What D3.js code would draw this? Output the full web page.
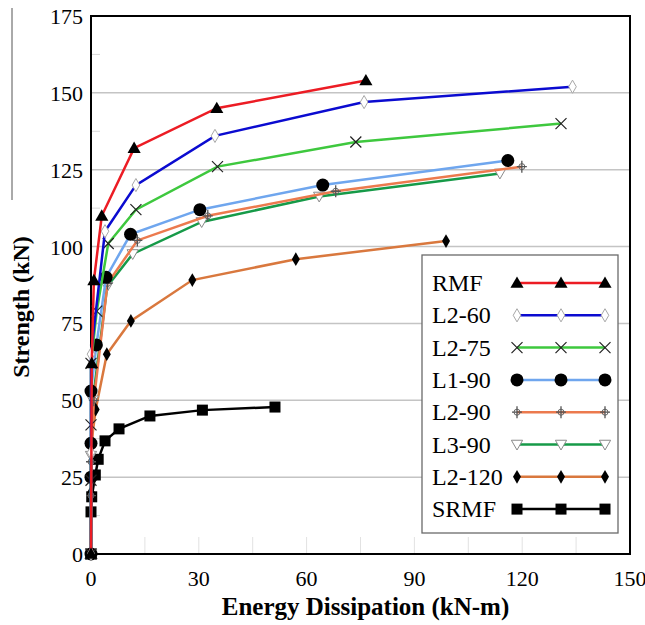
<!DOCTYPE html>
<html>
<head>
<meta charset="utf-8">
<script src="https://cdn.jsdelivr.net/npm/d3@7"></script>
<style>
  body { margin: 0; background: #fff; }
</style>
</head>
<body>
<div id="chart"></div>
<script>
// series values [energy kN-m, strength kN]
var RMF = [[0,0],[0.2,62],[0.8,89],[3,110],[12,132],[35,145],[76.5,154]];
var L2_60 = [[0,0],[0,33],[0,65],[3.9,105],[12.5,120],[34.5,136],[76,147],[134,152]];
var L2_75 = [[0,0],[0,24],[0,42],[0,62],[1.6,79],[4.8,101],[12.5,112],[35.2,126],[73.7,134],[130.8,140]];
var L1_90 = [[0,0],[0,25],[0,36],[0,53],[1.5,68],[4.2,90],[11,104],[30.3,112],[64.5,120],[116,128]];
var L2_90 = [[0,0],[0,19],[0,30],[0.8,50],[4.6,88],[12.9,102],[32.5,110],[68.1,118],[119.9,126]];
var L3_90 = [[0,0],[0,32],[0.5,50],[4.5,87],[11.6,97.6],[30.8,108],[63.5,116.3],[113.8,123.8]];
var L2_120 = [[0,0],[0,20],[0,35],[1.3,47],[4.4,65],[11.1,75.8],[28.2,89.1],[57,95.9],[98.8,101.8]];
var SRMF = [[0,0],[0,13.7],[0.2,18.6],[1.2,25.7],[2,30.8],[3.9,36.8],[7.8,40.7],[16.4,44.9],[31,46.8],[51.2,47.8]];

var seriesNames = ["RMF", "L2-60", "L2-75", "L1-90", "L2-90", "L3-90", "L2-120", "SRMF"];
var seriesData = [RMF, L2_60, L2_75, L1_90, L2_90, L3_90, L2_120, SRMF];
var seriesColors = ["#ec1c24", "#0b0bd0", "#3ec83e", "#6fa6ee", "#ec7a4e", "#169a48", "#d9783e", "#000000"];
var seriesMarkers = ["triUp", "diamondOpen", "cross", "dot", "plus", "triDownOpen", "diamond", "square"];

var xTicks = [0, 30, 60, 90, 120, 150];
var yTicks = [0, 25, 50, 75, 100, 125, 150, 175];

var FONT = "'Liberation Serif', 'DejaVu Serif', 'Times New Roman', serif";
var width = 645, height = 625;
var margin = { top: 16, right: 15, bottom: 71, left: 91 };

var svg = d3.select("#chart").append("svg")
  .attr("width", width)
  .attr("height", height)
  .attr("font-family", FONT)
  .style("font-family", FONT);

var x = d3.scaleLinear().domain([0, 150]).range([margin.left, width - margin.right]);
var y = d3.scaleLinear().domain([0, 175]).range([height - margin.bottom, margin.top]);

// gridlines
svg.append("g")
  .selectAll("line")
  .data(yTicks.filter(function(d) { return d > 0 && d < 175; }))
  .enter().append("line")
  .attr("x1", x(0)).attr("x2", x(150))
  .attr("y1", function(d) { return y(d); })
  .attr("y2", function(d) { return y(d); })
  .attr("stroke", "#c4c4c4")
  .attr("stroke-width", 1.5);

// short minor ticks on the left
svg.append("g")
  .selectAll("line")
  .data(d3.range(12.5, 175, 25))
  .enter().append("line")
  .attr("x1", x(0)).attr("x2", x(0) + 9)
  .attr("y1", function(d) { return y(d); })
  .attr("y2", function(d) { return y(d); })
  .attr("stroke", "#d8d8d8")
  .attr("stroke-width", 1);

// faint ticks at the bottom
svg.append("g")
  .selectAll("line")
  .data(d3.range(15, 150, 15))
  .enter().append("line")
  .attr("x1", function(d) { return x(d); })
  .attr("x2", function(d) { return x(d); })
  .attr("y1", y(0)).attr("y2", y(0) - 17)
  .attr("stroke", "#e2e2e2")
  .attr("stroke-width", 1);

// frame
svg.append("rect")
  .attr("x", x(0)).attr("y", y(175))
  .attr("width", x(150) - x(0))
  .attr("height", y(0) - y(175))
  .attr("fill", "none")
  .attr("stroke", "#000")
  .attr("stroke-width", 2);

// tick labels
svg.append("g")
  .selectAll("text")
  .data(yTicks)
  .enter().append("text")
  .attr("x", x(0) - 8)
  .attr("y", function(d) { return y(d) + 8; })
  .attr("text-anchor", "end")
  .attr("font-size", "22px")
  .text(function(d) { return d; });

svg.append("g")
  .selectAll("text")
  .data(xTicks)
  .enter().append("text")
  .attr("x", function(d) { return x(d); })
  .attr("y", y(0) + 32)
  .attr("text-anchor", "middle")
  .attr("font-size", "22px")
  .text(function(d) { return d; });

// axis titles
svg.append("text")
  .attr("x", (x(0) + x(150)) / 2 + 5)
  .attr("y", 615)
  .attr("text-anchor", "middle")
  .attr("font-size", "25px")
  .attr("font-weight", "bold")
  .text("Energy Dissipation (kN-m)");

svg.append("text")
  .attr("transform", "translate(29,307) rotate(-90)")
  .attr("text-anchor", "middle")
  .attr("font-size", "24px")
  .attr("font-weight", "bold")
  .text("Strength (kN)");

// stray line left of the y title
svg.append("line")
  .attr("x1", 12).attr("x2", 12)
  .attr("y1", 8).attr("y2", 200)
  .attr("stroke", "#555")
  .attr("stroke-width", 1);

function drawMarker(g, type, cx, cy) {
  if (type === "triUp") {
    g.append("path").attr("d", d3.symbol(d3.symbolTriangle, 75)())
      .attr("transform", "translate(" + cx + "," + (cy + 1) + ")").attr("fill", "#000");
  } else if (type === "diamondOpen") {
    g.append("path").attr("d", d3.symbol(d3.symbolDiamond, 50)())
      .attr("transform", "translate(" + cx + "," + cy + ")")
      .attr("fill", "#fff").attr("stroke", "#a8a8a8").attr("stroke-width", 1);
  } else if (type === "cross") {
    g.append("path").attr("d", "M-5.5,-5.5L5.5,5.5M-5.5,5.5L5.5,-5.5")
      .attr("transform", "translate(" + cx + "," + cy + ")")
      .attr("stroke", "#222").attr("stroke-width", 1.2).attr("fill", "none");
  } else if (type === "dot") {
    g.append("circle").attr("cx", cx).attr("cy", cy).attr("r", 6.5).attr("fill", "#000");
  } else if (type === "plus") {
    g.append("circle").attr("cx", cx).attr("cy", cy).attr("r", 3)
      .attr("fill", "none").attr("stroke", "#666").attr("stroke-width", 1);
    g.append("path").attr("d", "M-5,0L5,0M0,-6L0,6")
      .attr("transform", "translate(" + cx + "," + cy + ")")
      .attr("stroke", "#555").attr("stroke-width", 1.3);
  } else if (type === "triDownOpen") {
    g.append("path").attr("d", d3.symbol(d3.symbolTriangle, 55)())
      .attr("transform", "translate(" + cx + "," + (cy - 1) + ") rotate(180)")
      .attr("fill", "#fff").attr("stroke", "#8a8a8a").attr("stroke-width", 1);
  } else if (type === "diamond") {
    g.append("path").attr("d", d3.symbol(d3.symbolDiamond, 55)())
      .attr("transform", "translate(" + cx + "," + cy + ")").attr("fill", "#000");
  } else if (type === "square") {
    g.append("rect").attr("x", cx - 5.5).attr("y", cy - 5.5)
      .attr("width", 11).attr("height", 11).attr("fill", "#000");
  }
}

var line = d3.line()
  .x(function(d) { return x(d[0]); })
  .y(function(d) { return y(d[1]); });

// draw series, last one first so RMF ends up on top
for (var i = seriesData.length - 1; i >= 0; i--) {
  var g = svg.append("g");
  g.append("path")
    .datum(seriesData[i])
    .attr("d", line)
    .attr("fill", "none")
    .attr("stroke", seriesColors[i])
    .attr("stroke-width", 2.5);
  seriesData[i].forEach(function(p) {
    drawMarker(g, seriesMarkers[i], x(p[0]), y(p[1]));
  });
}

// legend
var legend = svg.append("g");
legend.append("rect")
  .attr("x", 422).attr("y", 255)
  .attr("width", 196).attr("height", 278)
  .attr("fill", "#fff")
  .attr("stroke", "#6a6a6a")
  .attr("stroke-width", 1.3);

seriesNames.forEach(function(name, i) {
  var ly = 283 + i * 32.3;
  legend.append("text")
    .attr("x", 432).attr("y", ly + 8)
    .attr("font-size", "24px")
    .text(name);
  legend.append("line")
    .attr("x1", 517).attr("x2", 605)
    .attr("y1", ly).attr("y2", ly)
    .attr("stroke", seriesColors[i])
    .attr("stroke-width", 2.5);
  [517, 561, 605].forEach(function(mx) {
    drawMarker(legend, seriesMarkers[i], mx, ly);
  });
});
</script>
</body>
</html>
